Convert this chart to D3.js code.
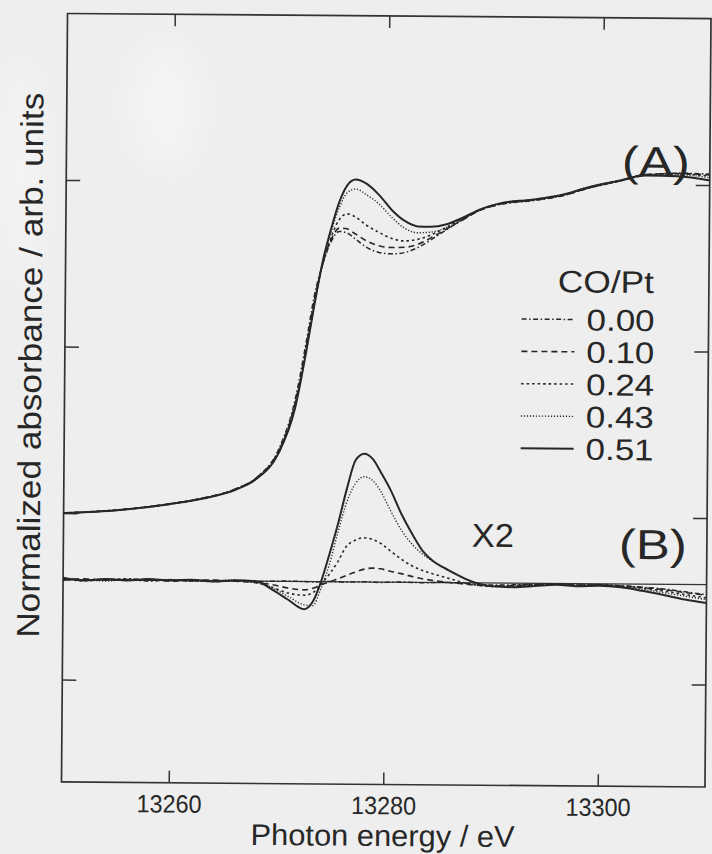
<!DOCTYPE html>
<html>
<head>
<meta charset="utf-8">
<script src="https://cdn.jsdelivr.net/npm/d3@7"></script>
<style>
  html, body { margin: 0; padding: 0; background: #eeeeee; }
  svg { display: block; }
</style>
</head>
<body>
<svg id="chart" width="712" height="854"></svg>
<script>
// ---- Pt L3-edge XANES, normalized (A) and difference spectra x2 (B) ----

const coRatios = ["0.00", "0.10", "0.24", "0.43", "0.51"];
const xTicks = [13260, 13280, 13300];
const yTicks = [-0.5, 0, 0.5, 1.0];

// (A) normalized absorbance
const energyA = [13250, 13255, 13260, 13263, 13266, 13268, 13270, 13271.5, 13272.5, 13273.2,
  13274, 13274.8, 13275.5, 13276.2, 13277, 13278, 13279.2, 13280.4, 13281.6, 13282.8,
  13284, 13285.5, 13287, 13288.5, 13290.5, 13293.5, 13296, 13299, 13301.5, 13304, 13307, 13310];
const muA000 = [0.000, 0.010, 0.031, 0.048, 0.076, 0.112, 0.196, 0.345, 0.520, 0.655,
  0.755, 0.825, 0.852, 0.848, 0.830, 0.806, 0.790, 0.786, 0.790, 0.805,
  0.828, 0.860, 0.890, 0.918, 0.937, 0.949, 0.962, 0.990, 1.009, 1.028, 1.035, 1.033];
const muA010 = [0.000, 0.010, 0.030, 0.048, 0.076, 0.111, 0.192, 0.335, 0.505, 0.640,
  0.757, 0.832, 0.862, 0.860, 0.845, 0.825, 0.810, 0.805, 0.806, 0.815,
  0.834, 0.862, 0.890, 0.917, 0.938, 0.950, 0.963, 0.991, 1.010, 1.030, 1.034, 1.030];
const muA024 = [0.000, 0.011, 0.030, 0.048, 0.075, 0.110, 0.190, 0.330, 0.500, 0.635,
  0.757, 0.840, 0.888, 0.905, 0.896, 0.872, 0.850, 0.832, 0.825, 0.830,
  0.843, 0.867, 0.893, 0.918, 0.939, 0.951, 0.964, 0.992, 1.011, 1.028, 1.033, 1.027];
const muA043 = [0.000, 0.010, 0.031, 0.047, 0.075, 0.109, 0.187, 0.324, 0.492, 0.628,
  0.762, 0.858, 0.925, 0.968, 0.980, 0.963, 0.935, 0.895, 0.863, 0.850,
  0.852, 0.866, 0.892, 0.918, 0.941, 0.953, 0.966, 0.994, 1.012, 1.029, 1.030, 1.022];
const muA051 = [0.000, 0.010, 0.030, 0.047, 0.074, 0.108, 0.185, 0.320, 0.490, 0.625,
  0.765, 0.867, 0.942, 0.990, 1.008, 0.996, 0.962, 0.917, 0.885, 0.869,
  0.868, 0.876, 0.896, 0.920, 0.940, 0.952, 0.965, 0.993, 1.010, 1.027, 1.026, 1.014];

// (B) difference spectra (already multiplied by 2), drawn about their own baseline
const baselineB = -0.2;
const energyB = [13250, 13252, 13254, 13256, 13258, 13260, 13262, 13264, 13266, 13268,
  13269.5, 13271, 13272.5, 13273.3, 13274,
  13274.8, 13275.6, 13276.4, 13277.2, 13278, 13278.8, 13279.6, 13280.5, 13281.5, 13282.5,
  13283.5, 13284.5, 13285.5, 13286.5, 13287.5, 13288.5,
  13290, 13292, 13294, 13296, 13298, 13300, 13302, 13304, 13306, 13308, 13310];
const diffB000 = [0.003, -0.001, 0.002, 0.001, -0.002, 0.002, -0.001, 0.001, 0.000, -0.001,
  0.000, 0.001, 0.000, -0.001, 0.000,
  0.001, 0.000, -0.001, 0.000, 0.001, 0.000, -0.001, 0.000, 0.001, 0.000,
  -0.001, 0.000, 0.001, 0.000, -0.002, -0.004,
  -0.006, -0.005, -0.003, -0.002, -0.004, -0.003, -0.005, -0.009, -0.014, -0.022, -0.030];
const diffB010 = [-0.002, 0.003, -0.001, 0.002, 0.003, -0.002, 0.001, 0.002, -0.001, -0.004,
  -0.010, -0.020, -0.025, -0.020, -0.010,
  -0.001, 0.009, 0.019, 0.029, 0.038, 0.042, 0.040, 0.033, 0.026, 0.018,
  0.011, 0.006, 0.002, -0.001, -0.004, -0.007,
  -0.009, -0.007, -0.004, -0.002, -0.004, -0.003, -0.006, -0.010, -0.016, -0.024, -0.032];
const diffB024 = [0.002, -0.003, 0.001, 0.004, -0.001, 0.002, 0.000, -0.002, 0.001, -0.005,
  -0.018, -0.035, -0.041, -0.033, -0.010,
  0.022, 0.060, 0.107, 0.125, 0.133, 0.128, 0.116, 0.094, 0.070, 0.050,
  0.036, 0.026, 0.017, 0.008, -0.001, -0.006,
  -0.010, -0.008, -0.005, -0.002, -0.005, -0.003, -0.007, -0.012, -0.020, -0.030, -0.040];
const diffB043 = [0.004, 0.000, -0.003, 0.002, 0.000, 0.003, -0.002, 0.001, 0.002, -0.002,
  -0.020, -0.045, -0.070, -0.072, -0.025,
  0.050, 0.150, 0.240, 0.296, 0.316, 0.305, 0.270, 0.214, 0.157, 0.115,
  0.085, 0.063, 0.044, 0.026, 0.012, 0.000,
  -0.008, -0.010, -0.006, -0.003, -0.006, -0.004, -0.008, -0.015, -0.025, -0.035, -0.045];
const diffB051 = [0.006, -0.002, 0.003, -0.001, 0.004, 0.000, 0.003, -0.002, 0.002, 0.000,
  -0.025, -0.055, -0.083, -0.060, -0.005,
  0.081, 0.175, 0.280, 0.366, 0.385, 0.369, 0.327, 0.275, 0.205, 0.146,
  0.095, 0.064, 0.045, 0.028, 0.012, 0.000,
  -0.010, -0.012, -0.008, -0.004, -0.008, -0.006, -0.010, -0.020, -0.032, -0.045, -0.055];

// ---- layout ----
const W = 712, H = 854;
const plot = { left: 64.5, right: 708, top: 16, bottom: 784.5 };
const ink = "#272727";
const fontFamily = "'Liberation Sans', Arial, Helvetica, sans-serif";

const svg = d3.select("#chart");

// soft paper tone with a few pale patches
const defs = svg.append("defs");
defs.append("filter").attr("id", "soft").attr("x", "-50%").attr("y", "-50%")
  .attr("width", "200%").attr("height", "200%")
  .append("feGaussianBlur").attr("stdDeviation", 16);
svg.append("rect").attr("width", W).attr("height", H).attr("fill", "#eeeeee");
const patches = svg.append("g").attr("filter", "url(#soft)").attr("fill", "#f8f8f8").attr("opacity", 0.6);
patches.append("ellipse").attr("cx", 165).attr("cy", 105).attr("rx", 36).attr("ry", 65);
patches.append("ellipse").attr("cx", 20).attr("cy", 170).attr("rx", 20).attr("ry", 110);

const g = svg.append("g").attr("transform", "rotate(0.45, 386, 400)");

const x = d3.scaleLinear().domain([13250, 13310]).range([plot.left, plot.right]);
const y = d3.scaleLinear().domain([-0.8075, 1.5]).range([plot.bottom, plot.top]);

// frame
g.append("rect")
  .attr("x", plot.left).attr("y", plot.top)
  .attr("width", plot.right - plot.left).attr("height", plot.bottom - plot.top)
  .attr("fill", "none").attr("stroke", "#333").attr("stroke-width", 1.7);

// inward ticks on all four sides
function styleAxis(sel) {
  sel.select(".domain").remove();
  sel.selectAll(".tick line").attr("stroke", "#333").attr("stroke-width", 1.5);
}
const bottomAxis = g.append("g").attr("transform", `translate(0,${plot.bottom})`)
  .call(d3.axisBottom(x).tickValues(xTicks).tickSize(-12).tickPadding(12).tickFormat(d3.format("d")));
styleAxis(bottomAxis);
bottomAxis.selectAll("text")
  .attr("fill", ink).attr("font-family", fontFamily).attr("font-size", 25)
  .attr("textLength", 65).attr("lengthAdjust", "spacingAndGlyphs");

const topAxis = g.append("g").attr("transform", `translate(0,${plot.top})`)
  .call(d3.axisTop(x).tickValues(xTicks).tickSize(-12).tickFormat(""));
styleAxis(topAxis);
const leftAxis = g.append("g").attr("transform", `translate(${plot.left},0)`)
  .call(d3.axisLeft(y).tickValues(yTicks).tickSize(-14).tickFormat(""));
styleAxis(leftAxis);
const rightAxis = g.append("g").attr("transform", `translate(${plot.right},0)`)
  .call(d3.axisRight(y).tickValues(yTicks).tickSize(-14).tickFormat(""));
styleAxis(rightAxis);

// line styles per CO/Pt ratio
const lineStyles = [
  { dash: "5,2.5,1.5,2.5", width: 1.5 },  // 0.00 dash-dot
  { dash: "6,4", width: 1.6 },            // 0.10 dashed
  { dash: "2.5,3", width: 1.6 },          // 0.24 short dashes
  { dash: "1.2,1.8", width: 1.4 },        // 0.43 dotted
  { dash: null, width: 2.0 }              // 0.51 solid
];

const line = d3.line().x(d => x(d[0])).y(d => y(d[1])).curve(d3.curveMonotoneX);

const seriesA = [muA000, muA010, muA024, muA043, muA051];
const seriesB = [diffB000, diffB010, diffB024, diffB043, diffB051];

// (B) baseline
g.append("line")
  .attr("x1", x(13250)).attr("x2", x(13310))
  .attr("y1", y(baselineB)).attr("y2", y(baselineB))
  .attr("stroke", "#333").attr("stroke-width", 1.2);

const curves = g.append("g").attr("fill", "none").attr("stroke", ink);
seriesA.forEach((vals, i) => {
  curves.append("path")
    .attr("d", line(energyA.map((e, k) => [e, vals[k]])))
    .attr("stroke-width", lineStyles[i].width)
    .attr("stroke-dasharray", lineStyles[i].dash);
});
seriesB.forEach((vals, i) => {
  curves.append("path")
    .attr("d", line(energyB.map((e, k) => [e, baselineB + vals[k]])))
    .attr("stroke-width", lineStyles[i].width)
    .attr("stroke-dasharray", lineStyles[i].dash);
});

// legend
const legend = g.append("g").attr("font-family", fontFamily).attr("fill", ink);
legend.append("text")
  .attr("x", 653).attr("y", 291).attr("text-anchor", "end")
  .attr("font-size", 31).attr("textLength", 96).attr("lengthAdjust", "spacingAndGlyphs")
  .text("CO/Pt");
coRatios.forEach((r, i) => {
  const cy = 318 + i * 32.3;
  legend.append("line")
    .attr("x1", 521).attr("x2", 574).attr("y1", cy).attr("y2", cy)
    .attr("stroke", ink).attr("stroke-width", lineStyles[i].width)
    .attr("stroke-dasharray", lineStyles[i].dash);
  legend.append("text")
    .attr("x", 654).attr("y", cy + 11).attr("text-anchor", "end")
    .attr("font-size", 30).attr("textLength", 68).attr("lengthAdjust", "spacingAndGlyphs")
    .text(r);
});

// panel labels
const labels = g.append("g").attr("font-family", fontFamily).attr("fill", ink);
labels.append("text").attr("x", 688).attr("y", 174).attr("text-anchor", "end")
  .attr("font-size", 42).attr("textLength", 68).attr("lengthAdjust", "spacingAndGlyphs")
  .text("(A)");
labels.append("text").attr("x", 688).attr("y", 557).attr("text-anchor", "end")
  .attr("font-size", 42).attr("textLength", 68).attr("lengthAdjust", "spacingAndGlyphs")
  .text("(B)");
labels.append("text").attr("x", 494).attr("y", 546).attr("text-anchor", "middle")
  .attr("font-size", 33).attr("textLength", 42).attr("lengthAdjust", "spacingAndGlyphs")
  .text("X2");

// axis titles
labels.append("text").attr("x", 386).attr("y", 846).attr("text-anchor", "middle")
  .attr("font-size", 30).attr("textLength", 264).attr("lengthAdjust", "spacingAndGlyphs")
  .text("Photon energy / eV");
labels.append("text")
  .attr("transform", "translate(41,368) rotate(-90)")
  .attr("text-anchor", "middle")
  .attr("font-size", 32).attr("textLength", 545).attr("lengthAdjust", "spacingAndGlyphs")
  .text("Normalized absorbance / arb. units");
</script>
</body>
</html>
